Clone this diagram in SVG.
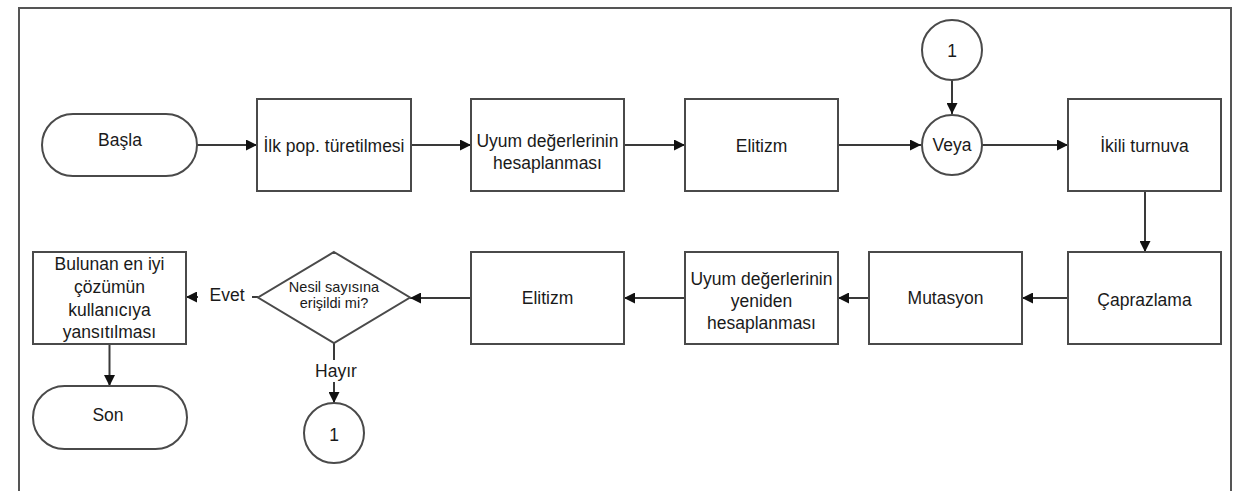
<svg xmlns="http://www.w3.org/2000/svg" width="1239" height="491" viewBox="0 0 1239 491">
<style>
.shape{fill:#fff;stroke:#4a4a4a;stroke-width:2}
.frame{fill:none;stroke:#555;stroke-width:2}
.conn{fill:none;stroke:#3a3a3a;stroke-width:2}
text{font-family:"Liberation Sans",Arial,sans-serif;font-size:17.5px;fill:#1a1a1a;text-anchor:middle}
.small{font-size:14.5px}
</style>
<defs>
<marker id="arr" viewBox="0 0 10 10" refX="10" refY="5" markerWidth="5.5" markerHeight="5.5" orient="auto" markerUnits="strokeWidth">
<path d="M0,0 L10,5 L0,10 z" fill="#111"/>
</marker>
</defs>
<rect width="1239" height="491" fill="#fff"/>
<path class="frame" d="M19,491 V8 H1231 V491"/>

<g id="connectors">
<line class="conn" x1="197" y1="145" x2="257" y2="145" marker-end="url(#arr)"/>
<line class="conn" x1="411" y1="145" x2="471" y2="145" marker-end="url(#arr)"/>
<line class="conn" x1="624" y1="145" x2="685" y2="145" marker-end="url(#arr)"/>
<line class="conn" x1="838" y1="145" x2="921" y2="145" marker-end="url(#arr)"/>
<line class="conn" x1="952" y1="80" x2="952" y2="114" marker-end="url(#arr)"/>
<line class="conn" x1="982" y1="145" x2="1068" y2="145" marker-end="url(#arr)"/>
<line class="conn" x1="1145" y1="191" x2="1145" y2="252" marker-end="url(#arr)"/>
<line class="conn" x1="1068" y1="298" x2="1022" y2="298" marker-end="url(#arr)"/>
<line class="conn" x1="869" y1="298" x2="838" y2="298" marker-end="url(#arr)"/>
<line class="conn" x1="685" y1="298" x2="624" y2="298" marker-end="url(#arr)"/>
<line class="conn" x1="471" y1="298" x2="410" y2="298" marker-end="url(#arr)"/>
<line class="conn" x1="258" y1="297" x2="186" y2="297" marker-end="url(#arr)"/>
<line class="conn" x1="334" y1="343" x2="334" y2="403" marker-end="url(#arr)"/>
<line class="conn" x1="109.5" y1="344" x2="109.5" y2="386" marker-end="url(#arr)"/>
<rect x="198" y="284" width="54" height="24" fill="#fff"/>
<text x="227" y="301">Evet</text>
<rect x="313" y="360" width="44" height="22" fill="#fff"/>
<text x="336" y="377">Hayır</text>
</g>

<g id="basla">
<rect class="shape" x="42" y="114" width="155" height="62" rx="31"/>
<text x="120" y="146">Başla</text>
</g>
<g id="ilk-pop">
<rect class="shape" x="257" y="99" width="154" height="92"/>
<text x="334" y="152">İlk pop. türetilmesi</text>
</g>
<g id="uyum">
<rect class="shape" x="471" y="99" width="153" height="92"/>
<text x="547.5" y="147">Uyum değerlerinin</text>
<text x="547.5" y="169">hesaplanması</text>
</g>
<g id="elitizm1">
<rect class="shape" x="685" y="99" width="153" height="92"/>
<text x="761.5" y="152">Elitizm</text>
</g>
<g id="veya">
<circle class="shape" cx="952" cy="145" r="30"/>
<text x="952" y="151">Veya</text>
</g>
<g id="konnektor-ust">
<circle class="shape" cx="952" cy="50" r="30"/>
<text x="952" y="57">1</text>
</g>
<g id="ikili-turnuva">
<rect class="shape" x="1068" y="99" width="153" height="92"/>
<text x="1144.5" y="152">İkili turnuva</text>
</g>
<g id="caprazlama">
<rect class="shape" x="1068" y="252" width="153" height="92"/>
<text x="1144.5" y="306">Çaprazlama</text>
</g>
<g id="mutasyon">
<rect class="shape" x="869" y="252" width="153" height="92"/>
<text x="945.5" y="304">Mutasyon</text>
</g>
<g id="uyum-yeniden">
<rect class="shape" x="685" y="252" width="153" height="92"/>
<text x="761.5" y="285">Uyum değerlerinin</text>
<text x="761.5" y="307">yeniden</text>
<text x="761.5" y="329">hesaplanması</text>
</g>
<g id="elitizm2">
<rect class="shape" x="471" y="252" width="153" height="92"/>
<text x="547.5" y="304">Elitizm</text>
</g>
<g id="karar">
<polygon class="shape" points="334,252 410,297.5 334,343 258,297.5"/>
<text class="small" x="334" y="292">Nesil sayısına</text>
<text class="small" x="334" y="308">erişildi mi?</text>
</g>
<g id="sonuc">
<rect class="shape" x="33" y="252" width="153" height="92"/>
<text x="109.5" y="270">Bulunan en iyi</text>
<text x="109.5" y="293">çözümün</text>
<text x="109.5" y="316">kullanıcıya</text>
<text x="109.5" y="338">yansıtılması</text>
</g>
<g id="son">
<rect class="shape" x="33" y="386" width="154" height="63" rx="31.5"/>
<text x="108" y="421">Son</text>
</g>
<g id="konnektor-alt">
<circle class="shape" cx="334" cy="433" r="30"/>
<text x="334" y="441">1</text>
</g>
</svg>
